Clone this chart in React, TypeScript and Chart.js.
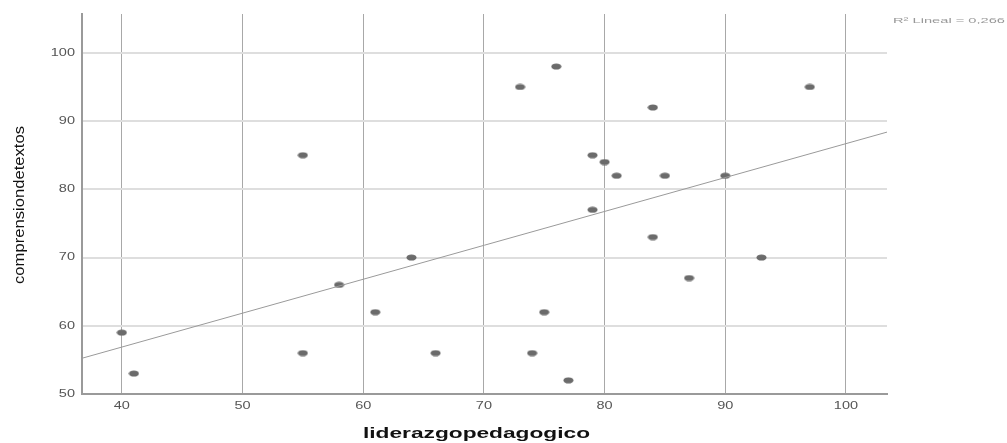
import React, { useEffect, useRef } from "react";
import { Chart, registerables } from "chart.js";
Chart.register(...registerables);

// Values
const liderazgo = [40, 41, 55, 55, 58, 61, 64, 66, 73, 76, 74, 75, 77, 79, 80, 81, 79, 84, 85, 84, 87, 90, 93, 97];
const comprension = [59, 53, 85, 56, 66, 62, 70, 56, 95, 98, 56, 62, 52, 85, 84, 82, 77, 92, 82, 73, 67, 82, 70, 95];
const xTicks = [40, 50, 60, 70, 80, 90, 100];
const yTicks = [50, 60, 70, 80, 90, 100];
const xRange = [36.7, 103.4];
const yRange = [50, 105.7];
const fitIntercept = 37.0;
const fitSlope = 0.497;
const rSquaredLabel = "R² Lineal = 0,266";
const xTitle = "liderazgopedagogico";
const yTitle = "comprensiondetextos";

const FONT = "'Liberation Sans', Arial, sans-serif";

function makeDot(): HTMLCanvasElement {
  const c = document.createElement("canvas");
  c.width = 11;
  c.height = 7;
  const ctx = c.getContext("2d")!;
  ctx.fillStyle = "#6b6b6b";
  ctx.beginPath();
  ctx.ellipse(5.5, 3.5, 5, 3.1, 0, 0, Math.PI * 2);
  ctx.fill();
  return c;
}

function drawScaledText(
  ctx: CanvasRenderingContext2D,
  text: string,
  cx: number,
  cy: number,
  font: string,
  color: string,
  sx: number,
  align: "center" | "right" | "left" = "center",
  targetWidth?: number
) {
  ctx.save();
  ctx.font = font;
  ctx.fillStyle = color;
  ctx.textBaseline = "middle";
  ctx.textAlign = align;
  const w = ctx.measureText(text).width;
  const scale = targetWidth ? targetWidth / w : sx;
  ctx.translate(cx, cy);
  ctx.scale(scale, 1);
  ctx.fillText(text, 0, 0);
  ctx.restore();
}

const textPlugin = {
  id: "textPlugin",
  afterDraw(chart: any) {
    const ctx: CanvasRenderingContext2D = chart.ctx;
    const xs = chart.scales.x;
    const ys = chart.scales.y;
    const area = chart.chartArea;
    // y tick labels
    yTicks.forEach((v) => {
      drawScaledText(ctx, String(v), area.left - 7, ys.getPixelForValue(v), `10px ${FONT}`, "#555", 1.45, "right");
    });
    // x tick labels
    xTicks.forEach((v) => {
      drawScaledText(ctx, String(v), xs.getPixelForValue(v), area.bottom + 12, `10px ${FONT}`, "#555", 1.45, "center");
    });
    // x title
    drawScaledText(ctx, xTitle, (area.left + area.right) / 2 - 8, 434, `bold 14px ${FONT}`, "#111", 1, "center", 227);
    // y title (rotated)
    ctx.save();
    ctx.translate(20, (area.top + area.bottom) / 2 + 1);
    ctx.rotate(-Math.PI / 2);
    ctx.font = `14px ${FONT}`;
    const w = ctx.measureText(yTitle).width;
    ctx.scale(158 / w, 1.05);
    ctx.fillStyle = "#111";
    ctx.textAlign = "center";
    ctx.textBaseline = "middle";
    ctx.fillText(yTitle, 0, 0);
    ctx.restore();
    // R² label
    drawScaledText(ctx, rSquaredLabel, 893, 21, `8px ${FONT}`, "#999", 1, "left", 112);
  },
};

export default function App() {
  const ref = useRef<HTMLCanvasElement | null>(null);
  useEffect(() => {
    if (!ref.current) return;
    const dot = makeDot();
    const points = liderazgo.map((x, i) => ({ x, y: comprension[i] }));
    const fit = [
      { x: xRange[0], y: fitIntercept + fitSlope * xRange[0] },
      { x: xRange[1], y: fitIntercept + fitSlope * xRange[1] },
    ];
    const chart = new Chart(ref.current, {
      type: "scatter",
      data: {
        datasets: [
          {
            type: "line",
            data: fit,
            borderColor: "#9a9a9a",
            borderWidth: 1,
            pointRadius: 0,
            fill: false,
          } as any,
          {
            data: points,
            pointStyle: dot as any,
            pointRadius: 4,
            pointHoverRadius: 4,
          },
        ],
      },
      options: {
        animation: false,
        responsive: false,
        events: [],
        layout: { padding: { top: 14, right: 120, left: 0, bottom: 0 } },
        plugins: { legend: { display: false }, tooltip: { enabled: false } },
        scales: {
          x: {
            type: "linear",
            min: xRange[0],
            max: xRange[1],
            afterBuildTicks: (s: any) => {
              s.ticks = xTicks.map((v) => ({ value: v }));
            },
            afterFit: (s: any) => {
              s.height = 49;
            },
            ticks: { display: false },
            grid: { color: "#a8a8a8", lineWidth: 1, drawTicks: false },
            border: { display: true, color: "#9a9a9a", width: 2 },
          },
          y: {
            type: "linear",
            min: yRange[0],
            max: yRange[1],
            afterBuildTicks: (s: any) => {
              s.ticks = yTicks.map((v) => ({ value: v }));
            },
            afterFit: (s: any) => {
              s.width = 82;
            },
            ticks: { display: false },
            grid: { color: "#dedede", lineWidth: 2, drawTicks: false },
            border: { display: true, color: "#9a9a9a", width: 2 },
          },
        },
      },
      plugins: [textPlugin],
    });
    return () => chart.destroy();
  }, []);
  return (
    <div style={{ position: "fixed", left: 0, top: 0, width: 1007, height: 443, background: "#fff" }}>
      <canvas ref={ref} width={1007} height={443} style={{ width: 1007, height: 443 }} />
    </div>
  );
}
